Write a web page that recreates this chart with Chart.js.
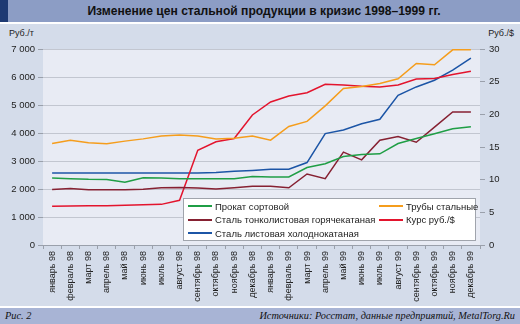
<!DOCTYPE html>
<html>
<head>
<meta charset="utf-8">
<script src="https://cdn.jsdelivr.net/npm/chart.js@4/dist/chart.umd.min.js"></script>
<style>
  html, body { margin:0; padding:0; }
  body { width:520px; height:324px; overflow:hidden; background:#fff; font-family:"Liberation Sans", Arial, sans-serif; }
  #wrap { position:relative; width:520px; height:324px; background:#fff; }
  #titlebar { position:absolute; left:0; top:0; width:520px; height:22px; background:#8c9dc5; }
  #titlebar .blk { position:absolute; left:0; top:0; width:8px; height:22px; background:#1e3a73; }
  #titlebar .t { position:absolute; left:8px; right:0; top:0; height:22px; line-height:22px; text-align:center; font-weight:bold; font-size:12.1px; color:#111; }
  #body { position:absolute; left:0; top:24px; width:520px; height:282px; background:#d4dcea; }
  #footer { position:absolute; left:0; top:308px; width:520px; height:16px; background:#a8b4d5; font-family:"Liberation Serif", "DejaVu Serif", serif; font-style:italic; font-size:10.3px; color:#111; }
  #footer .l { position:absolute; left:5px; top:0; line-height:16px; }
  #footer .r { position:absolute; right:5px; top:0; line-height:16px; }
  .unit { position:absolute; font-size:9px; color:#222; }
  #legend { position:absolute; left:183px; top:198px; width:293px; height:43px; background:#fff; border:1px solid #a0a4ac; box-sizing:border-box; font-size:9.5px; color:#222; }
  .li { position:absolute; height:12px; line-height:12px; white-space:nowrap; }
  .li span.sw { display:inline-block; width:24px; height:0; border-top:2px solid; vertical-align:middle; margin-right:3px; position:relative; top:-1px; }
  canvas { position:absolute; left:0; top:24px; }
</style>
</head>
<body>
<div id="wrap">
  <div id="titlebar"><div class="blk"></div><div class="t">Изменение цен стальной продукции в кризис 1998–1999 гг.</div></div>
  <div id="body"></div>
  <div class="unit" style="left:9px; top:28px;">Руб./т</div>
  <div class="unit" style="right:6px; top:28px;">Руб./$</div>
  <canvas id="c" width="520" height="282"></canvas>
  <div id="legend"></div>
  <div id="footer"><span class="l">Рис. 2</span><span class="r">Источники: Росстат, данные предприятий, MetalTorg.Ru</span></div>
</div>
<script>
const months = ['январь 98','февраль 98','март 98','апрель 98','май 98','июнь 98','июль 98','август 98','сентябрь 98','октябрь 98','ноябрь 98','декабрь 98','январь 99','февраль 99','март 99','апрель 99','май 99','июнь 99','июль 99','август 99','сентябрь 99','октябрь 99','ноябрь 99','декабрь 99'];
const prokatSortovoy = [2390,2370,2345,2335,2240,2405,2395,2370,2370,2370,2370,2450,2430,2430,2765,2905,3160,3230,3255,3625,3805,3975,4155,4225];
const trubyStalnye   = [3625,3745,3650,3615,3710,3790,3890,3925,3890,3790,3815,3890,3745,4235,4415,4970,5590,5660,5770,5935,6485,6435,6970,6970];
const stalGoryachekat = [1985,2020,1975,1975,1975,1995,2045,2055,2035,2000,2045,2095,2095,2045,2535,2370,3315,3040,3745,3875,3670,4210,4750,4750];
const kursRubUsd     = [5.92,5.97,6.02,6.02,6.07,6.17,6.22,6.84,14.5,15.8,16.3,19.9,21.9,22.8,23.3,24.6,24.5,24.3,24.2,24.5,25.4,25.5,26.1,26.6];
const stalKholodnokat = [2575,2575,2575,2575,2575,2575,2575,2575,2575,2585,2630,2665,2705,2705,2945,3980,4110,4330,4490,5345,5645,5885,6245,6675];
const leftTicks = [0,1000,2000,3000,4000,5000,6000,7000];
const rightTicks = [0,5,10,15,20,25,30];

const series = [
  {label:'Прокат сортовой', data:prokatSortovoy, color:'#1f9e45', axis:'y'},
  {label:'Трубы стальные', data:trubyStalnye, color:'#f59d1c', axis:'y'},
  {label:'Сталь тонколистовая горячекатаная', data:stalGoryachekat, color:'#862132', axis:'y'},
  {label:'Курс руб./$', data:kursRubUsd, color:'#e3142d', axis:'y2'},
  {label:'Сталь листовая холоднокатаная', data:stalKholodnokat, color:'#1c55a6', axis:'y'}
];

const leg = document.getElementById('legend');
series.forEach((s,i)=>{
  const d = document.createElement('div');
  d.className='li';
  const col = i%2, row = Math.floor(i/2);
  d.style.left = (col===0? 4 : 195) + 'px';
  d.style.top = (2 + row*13.3) + 'px';
  d.innerHTML = '<span class="sw" style="border-color:'+s.color+'"></span>'+s.label;
  leg.appendChild(d);
});

const bgPlugin = {
  id:'plotbg',
  beforeDraw(chart){
    const {ctx, chartArea:a} = chart;
    ctx.save();
    ctx.fillStyle = '#e8ebf4';
    ctx.fillRect(a.left, a.top, a.right-a.left, a.bottom-a.top);
    ctx.restore();
  }
};

const fmt = v => String(v).replace(/\B(?=(\d{3})+(?!\d))/g, ' ');

new Chart(document.getElementById('c'), {
  type:'line',
  data:{
    labels: months,
    datasets: series.map(s=>({
      label:s.label, data:s.data, borderColor:s.color, backgroundColor:s.color,
      borderWidth:1.5, pointRadius:0, tension:0, yAxisID:s.axis, fill:false
    }))
  },
  plugins:[bgPlugin],
  options:{
    responsive:false, animation:false,
    layout:{padding:{top:25, left:0, right:0, bottom:0}},
    plugins:{legend:{display:false}, tooltip:{enabled:false}, title:{display:false}},
    scales:{
      x:{
        type:'category', offset:true,
        grid:{offset:true, drawOnChartArea:false, drawTicks:true, tickLength:4, color:'#9aa0ab', tickColor:'#9aa0ab'},
        border:{display:true, color:'#9aa0ab'},
        ticks:{minRotation:90, maxRotation:90, autoSkip:false, padding:2, color:'#222', font:{family:'Liberation Sans', size:9}},
        afterFit(s){ s.height = 61; }
      },
      y:{
        position:'left', min:0, max:7000,
        afterBuildTicks(s){ s.ticks = leftTicks.map(v=>({value:v})); },
        grid:{color:'#c2c6d0', tickColor:'#9aa0ab', tickLength:5, drawTicks:true},
        border:{display:false},
        ticks:{padding:3, color:'#222', font:{family:'Liberation Sans', size:9.5}, callback:v=>fmt(v)},
        afterFit(s){ s.width = 43; }
      },
      y2:{
        position:'right', min:0, max:30,
        afterBuildTicks(s){ s.ticks = rightTicks.map(v=>({value:v})); },
        grid:{drawOnChartArea:false, tickColor:'#9aa0ab', tickLength:5, drawTicks:true},
        border:{display:false},
        ticks:{padding:4, color:'#222', font:{family:'Liberation Sans', size:9.5}},
        afterFit(s){ s.width = 40; }
      }
    }
  }
});
</script>
</body>
</html>
